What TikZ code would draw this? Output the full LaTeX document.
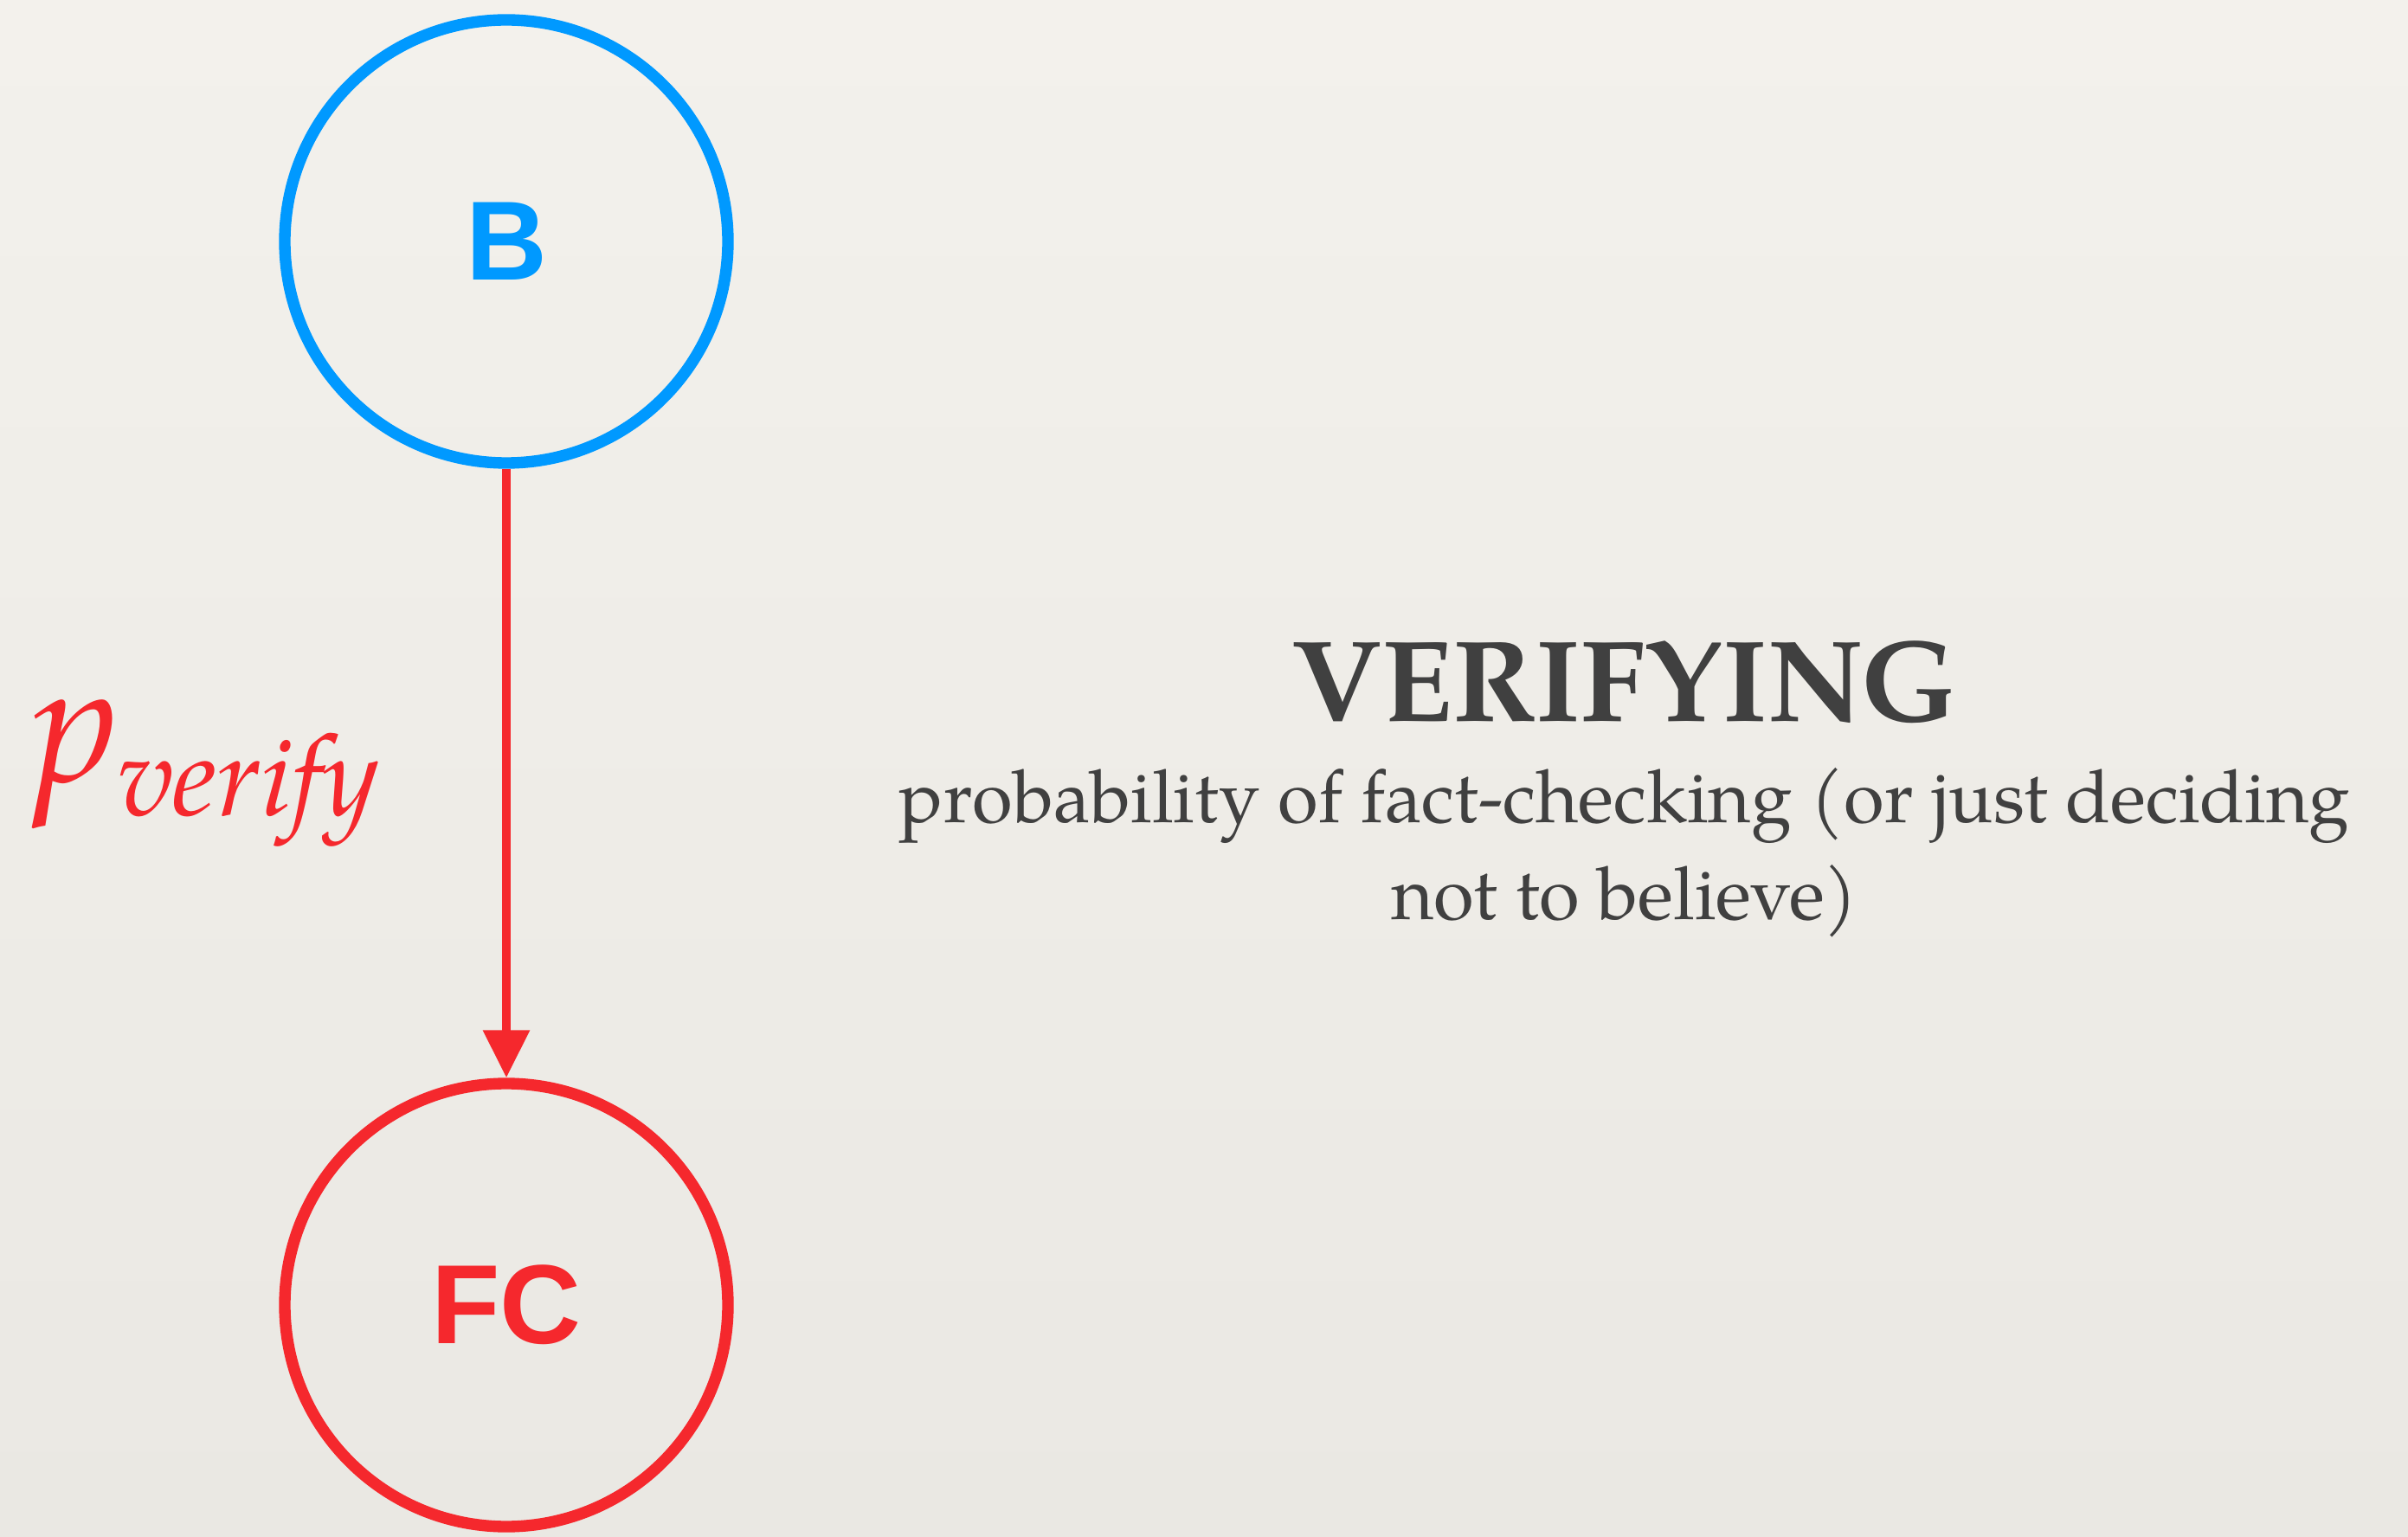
\documentclass[tikz,border=0pt]{standalone}
\usepackage{fontspec}
\setmainfont{TeX Gyre Pagella}
\newfontfamily\headfont{Liberation Sans}
\usetikzlibrary{positioning, arrows.meta}
\definecolor{paper}{RGB}{243,241,236}
\definecolor{paperdark}{RGB}{234,232,227}
\definecolor{bblue}{RGB}{0,153,255}
\definecolor{fcred}{RGB}{245,40,45}
\definecolor{inkgray}{RGB}{64,64,64}
\tikzset{
  state/.style   = {draw, circle, line width=3.8pt, minimum size=5.12cm, inner sep=0pt, font=\headfont\bfseries\fontsize{37}{44}\selectfont},
  arrow/.style   = {-{Triangle[length=0.55cm, width=0.52cm]}, line width=2.8pt},
  title/.style   = {text=inkgray, font=\bfseries\fontsize{38}{44}\selectfont},
  caption/.style = {text=inkgray, align=center, font=\fontsize{24.2}{31.8}\selectfont}
}

\begin{document}
\begin{tikzpicture}
  \fill[top color=paper, bottom color=paperdark] (0,0) rectangle (27.82,-17.76);
  \useasboundingbox (0,0) rectangle (27.82,-17.76);
  \node[state, bblue, text=bblue] (b) at (5.85,-2.79) {B};
  \node[state, fcred, text=fcred] (fc) at (5.85,-15.08) {FC};
  \draw[arrow, fcred] (b) -- (fc)
    node[midway, left=1.3cm, text=fcred, font=\fontsize{56}{60}\selectfont\itshape] (pv) {p\raisebox{-0.2em}{\fontsize{37}{40}\selectfont verify}};
  \node[title, anchor=base] (verifying) at (18.77,-8.34) {VERIFYING};
  \node[caption, anchor=north] (expl) at (18.77,-8.75) {probability of fact-checking (or just deciding\\ not to believe)};
\end{tikzpicture}
\end{document}
